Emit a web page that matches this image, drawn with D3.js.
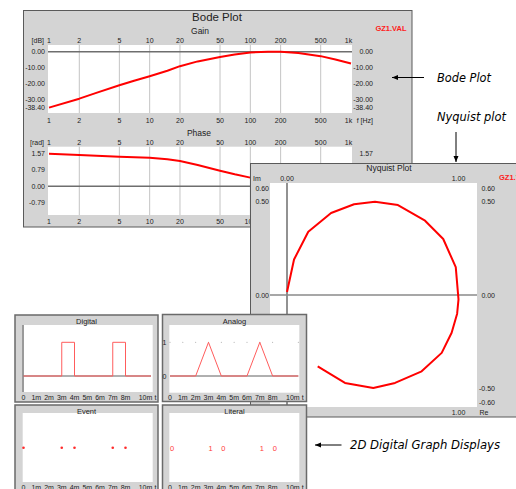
<!DOCTYPE html>
<html><head><meta charset="utf-8">
<script src="https://cdn.jsdelivr.net/npm/d3@7"></script>
<style>
body{margin:0;background:#fff}
svg{display:block}
text{font-family:"Liberation Sans",Arial,sans-serif;fill:#222}
</style>
</head><body>
<svg id="c" width="516" height="489"></svg>
<script>
// ---- Bode data ----
const freqTicks = [1, 2, 5, 10, 20, 50, 100, 200, 500, 1000];
const freqLabels = ["1", "2", "5", "10", "20", "50", "100", "200", "500", "1k"];
const gainFreq = [1, 2, 3, 5, 7, 10, 15, 20, 30, 50, 70, 100, 150, 200, 300, 500, 700, 1000];
const gainDb = [-35.0, -29.4, -25.6, -21.0, -18.1, -15.3, -11.9, -9.0, -6.0, -3.2, -1.7, -0.4, 0.1, 0.1, -0.7, -2.7, -4.8, -7.3];
const gainTicks = [0, -10, -20, -30, -38.4];
const phaseFreq = [1, 2, 5, 10, 15, 20, 30, 50, 70, 100, 150, 200, 300, 500, 700, 1000];
const phaseRad = [1.57, 1.51, 1.43, 1.38, 1.31, 1.22, 1.03, 0.75, 0.58, 0.42, 0.2, 0.05, -0.2, -0.5, -0.68, -0.85];
const phaseTicks = [1.57, 0.79, 0, -0.79];

// ---- Nyquist data ----
const nyqRe = [0.0, 0.041, 0.124, 0.257, 0.391, 0.513, 0.647, 0.805, 0.911, 0.984, 1.0, 0.992, 0.96, 0.902, 0.785, 0.63, 0.503, 0.338, 0.179];
const nyqIm = [0.016, 0.19, 0.339, 0.439, 0.486, 0.5, 0.482, 0.398, 0.3, 0.149, -0.023, -0.1, -0.202, -0.31, -0.409, -0.471, -0.498, -0.471, -0.382];
const nyqLeftTicks = [0.6, 0.5, 0];
const nyqRightTicks = [0.6, 0.5, 0, -0.5, -0.6];

// ---- 2D digital graph data ----
const timeTicks = [0, 1, 2, 3, 4, 5, 6, 7, 8, 10];
const timeLabels = ["0", "1m", "2m", "3m", "4m", "5m", "6m", "7m", "8m", "10m"];
const digitalT = [0, 3, 3, 4, 4, 7, 7, 8, 8, 10];
const digitalV = [0, 0, 1, 1, 0, 0, 1, 1, 0, 0];
const analogT = [0, 2, 3, 4, 6, 7, 8, 10];
const analogV = [0, 0, 1, 0, 0, 1, 0, 0];
const eventT = [0, 3, 4, 7, 8];
const literalT = [0, 3, 4, 7, 8];
const literalV = ["0", "1", "0", "1", "0"];

const svg = d3.select("#c");
const PANEL = "#d4d4d4", BORDER = "#5a5a5a", GRID = "#c4c4c4", AXIS = "#6e6e6e", RED = "#ff0000";
const NYQ_TOP = 163.5;   // top edge of the Nyquist window, which sits over the Bode window

function txt(g, x, y, s, size, anchor, extra) {
  const t = g.append("text").attr("x", x).attr("y", y).attr("font-size", size)
    .attr("text-anchor", anchor || "middle").attr("dominant-baseline", "central").text(s);
  if (extra) extra(t);
  return t;
}
function panel(x, y, w, h, sw, stroke) {
  svg.append("rect").attr("x", x).attr("y", y).attr("width", w).attr("height", h)
    .attr("fill", PANEL).attr("stroke", stroke || BORDER).attr("stroke-width", sw || 1);
}

// ================= Bode panel =================
panel(23.5, 10.5, 388.5, 216.5);
const bode = svg.append("g");
txt(bode, 217, 17, "Bode Plot", 11.5);
txt(bode, 200, 31, "Gain", 8.5);
txt(bode, 199, 133, "Phase", 8.5);
txt(bode, 391, 28, "GZ1.VAL", 7.5, "middle", t => t.style("fill", "#ff2020").attr("font-weight", "bold"));

const fx = d3.scaleLog().domain([1, 1000]).range([49, 351]);
const gL = 48, gR = 352;
const gainY = d3.scaleLinear().domain([-38.4, 4.3]).range([113, 45]);
const phaseY = d3.scaleLinear().domain([-1.38, 1.91]).range([215, 146.7]);

function bodePlot(yScale, ticks, unit, freqs, vals, topLabelY, botLabelY, botAxisLabel) {
  const [y0, y1] = yScale.range();
  const g = bode.append("g");
  g.append("rect").attr("x", gL).attr("y", y1).attr("width", gR - gL).attr("height", y0 - y1).attr("fill", "#fff");
  g.selectAll("line.grid").data(freqTicks.slice(1, -1)).join("line")
    .attr("x1", d => fx(d)).attr("x2", d => fx(d)).attr("y1", y1).attr("y2", y0)
    .attr("stroke", GRID).attr("stroke-width", 1);
  g.append("line").attr("x1", gL).attr("x2", gR).attr("y1", yScale(0)).attr("y2", yScale(0))
    .attr("stroke", AXIS).attr("stroke-width", 1.5);
  // frequency tick labels above and below the plot
  freqTicks.forEach((f, i) => {
    const shift = i === freqTicks.length - 1 ? -2.5 : 0;
    txt(g, fx(f) + shift, topLabelY, freqLabels[i], 7);
    if (botLabelY < NYQ_TOP || fx(f) < 262) txt(g, fx(f) + shift, botLabelY, freqLabels[i], 7);
  });
  txt(g, 44, topLabelY, unit, 7, "end");
  if (botAxisLabel) txt(g, 373, botLabelY, botAxisLabel, 7, "end");
  ticks.forEach(v => {
    const yy = Math.min(Math.max(yScale(v), y1 + 4), y0 - 5.5);
    txt(g, 45, yy, v.toFixed(2), 7, "end");
    if (yy < NYQ_TOP - 4) txt(g, 373, yy, v.toFixed(2), 7, "end");
  });
  const line = d3.line().x((d, i) => fx(freqs[i])).y(d => yScale(d));
  g.append("path").datum(vals).attr("d", line).attr("fill", "none")
    .attr("stroke", RED).attr("stroke-width", 2).attr("stroke-linejoin", "round");
}
bodePlot(gainY, gainTicks, "[dB]", gainFreq, gainDb, 40, 120, "f [Hz]");
bodePlot(phaseY, phaseTicks, "[rad]", phaseFreq, phaseRad, 142, 221, null);

// ================= Nyquist panel =================
panel(250.5, NYQ_TOP, 280, 253.5);
const nyq = svg.append("g");
const nL = 270, nR = 477, nT = 183, nB = 407;
const nx = d3.scaleLinear().domain([0, 1]).range([287, 458.5]);
const ny = d3.scaleLinear().domain([-0.6, 0.6]).range([nB, nT]);
nyq.append("rect").attr("x", nL).attr("y", nT).attr("width", nR - nL).attr("height", nB - nT).attr("fill", "#fff");
nyq.append("line").attr("x1", nx(0)).attr("x2", nx(0)).attr("y1", nT).attr("y2", nB)
  .attr("stroke", AXIS).attr("stroke-width", 1.5);
nyq.append("line").attr("x1", nL).attr("x2", nR).attr("y1", ny(0)).attr("y2", ny(0))
  .attr("stroke", "#8a8a8a").attr("stroke-width", 1.5);
txt(nyq, 389, 168, "Nyquist Plot", 8.5);
txt(nyq, 257, 178, "Im", 7);
txt(nyq, 499, 177, "GZ1.VAL", 7.5, "start", t => t.style("fill", "#ff2020").attr("font-weight", "bold"));
[0, 1].forEach(v => txt(nyq, nx(v), 178.5, v.toFixed(2), 7));
txt(nyq, nx(1), 412, "1.00", 7);
txt(nyq, 484, 412.5, "Re", 7);
const clampY = v => Math.min(Math.max(ny(v), nT + 5), nB - 5);
nyqLeftTicks.forEach(v => txt(nyq, 269, clampY(v), v.toFixed(2), 7, "end"));
nyqRightTicks.forEach(v => txt(nyq, 495, clampY(v), v.toFixed(2), 7, "end"));
const nyqLine = d3.line().x((d, i) => nx(nyqRe[i])).y(d => ny(d));
nyq.append("path").datum(nyqIm).attr("d", nyqLine).attr("fill", "none")
  .attr("stroke", RED).attr("stroke-width", 2).attr("stroke-linejoin", "round");

// ================= 2D digital graph displays =================
const SIG = "#ff5c5c";
function timePanel(px, py, w, h, title, plot, t, labelY) {
  panel(px, py, w, h, 1.5, "#6a6a6a");
  const g = svg.append("g");
  g.append("rect").attr("x", plot[0]).attr("y", plot[1]).attr("width", plot[2] - plot[0])
    .attr("height", plot[3] - plot[1]).attr("fill", "#fff");
  txt(g, (px + px + w) / 2, py + 6.5, title, 7.5);
  timeTicks.forEach((d, i) => {
    const last = i === timeTicks.length - 1;
    txt(g, t(d) - (last ? 5.5 : 0), labelY, timeLabels[i], 7);
  });
  txt(g, t(10) + 4.5, labelY, "t", 7);
  return g;
}
const tL = d3.scaleLinear().domain([0, 10]).range([23.5, 151]);
const tR = d3.scaleLinear().domain([0, 10]).range([170, 298.3]);
const lvl = d3.scaleLinear().domain([0, 1]).range([376, 342.3]);

// Digital
{
  const g = timePanel(15, 315, 143, 87, "Digital", [22.7, 325, 152.7, 392], tL, 397.5);
  g.append("line").attr("x1", 23).attr("x2", 23).attr("y1", 325).attr("y2", 392)
    .attr("stroke", "#9a9a9a").attr("stroke-width", 2);
  g.append("line").attr("x1", tL(0)).attr("x2", tL(10)).attr("y1", lvl(0)).attr("y2", lvl(0))
    .attr("stroke", "#606060").attr("stroke-width", 1);
  const line = d3.line().x((d, i) => tL(digitalT[i])).y(d => lvl(d));
  g.append("path").datum(digitalV).attr("d", line).attr("fill", "none")
    .attr("stroke", SIG).attr("stroke-width", 1);
}
// Analog
{
  const g = timePanel(162.5, 314.5, 144, 87, "Analog", [169.3, 325, 299.3, 392.7], tR, 397.7);
  g.selectAll("circle.dot").data(timeTicks).join("circle")
    .attr("cx", d => tR(d)).attr("cy", lvl(1)).attr("r", 0.5).attr("fill", "#9a9a9a");
  txt(g, 164.5, lvl(1), "1", 7);
  txt(g, 164.5, lvl(0), "0", 7);
  g.append("line").attr("x1", tR(0)).attr("x2", tR(10)).attr("y1", lvl(0)).attr("y2", lvl(0))
    .attr("stroke", "#606060").attr("stroke-width", 1);
  const line = d3.line().x((d, i) => tR(analogT[i])).y(d => lvl(d));
  g.append("path").datum(analogV).attr("d", line).attr("fill", "none")
    .attr("stroke", SIG).attr("stroke-width", 1);
}
// Event
{
  const g = timePanel(15, 405, 143, 90, "Event", [22.7, 413, 152.7, 482], tL, 487.5);
  g.selectAll("circle.ev").data(eventT).join("circle")
    .attr("cx", d => Math.max(tL(d), 23.2)).attr("cy", 447.7).attr("r", 1.3).attr("fill", "#ff2a2a");
}
// Literal
{
  const g = timePanel(162.5, 405, 144, 90, "Literal", [169.3, 413, 299.3, 482], tR, 487.5);
  literalT.forEach((d, i) => {
    txt(g, tR(d), 448.5, literalV[i], 7.5, "start", t => t.style("fill", "#ff3a3a"));
  });
}

// ================= annotations =================
const note = svg.append("g");
function arrow(x1, y1, x2, y2) {
  note.append("line").attr("x1", x1).attr("y1", y1).attr("x2", x2).attr("y2", y2)
    .attr("stroke", "#000").attr("stroke-width", 1);
  const a = Math.atan2(y2 - y1, x2 - x1), L = 6, W = 2.5;
  const bx = x2 - L * Math.cos(a), by = y2 - L * Math.sin(a);
  note.append("path").attr("d",
    `M${x2},${y2}L${bx - W * Math.sin(a)},${by + W * Math.cos(a)}L${bx + W * Math.sin(a)},${by - W * Math.cos(a)}Z`)
    .attr("fill", "#000");
}
function label(x, y, s, w) {
  note.append("text").attr("x", x).attr("y", y).attr("font-size", 11.5).attr("font-style", "italic")
    .attr("textLength", w).attr("lengthAdjust", "spacingAndGlyphs")
    .style("font-family", "'DejaVu Sans',sans-serif").style("fill", "#000").text(s);
}
arrow(424, 77.5, 392, 77.5);
label(437, 82, "Bode Plot", 54);
arrow(456, 132, 456, 162);
label(437, 121, "Nyquist plot", 69);
arrow(341.5, 445, 315, 445);
label(350, 449, "2D Digital Graph Displays", 150);
</script>
</body></html>
